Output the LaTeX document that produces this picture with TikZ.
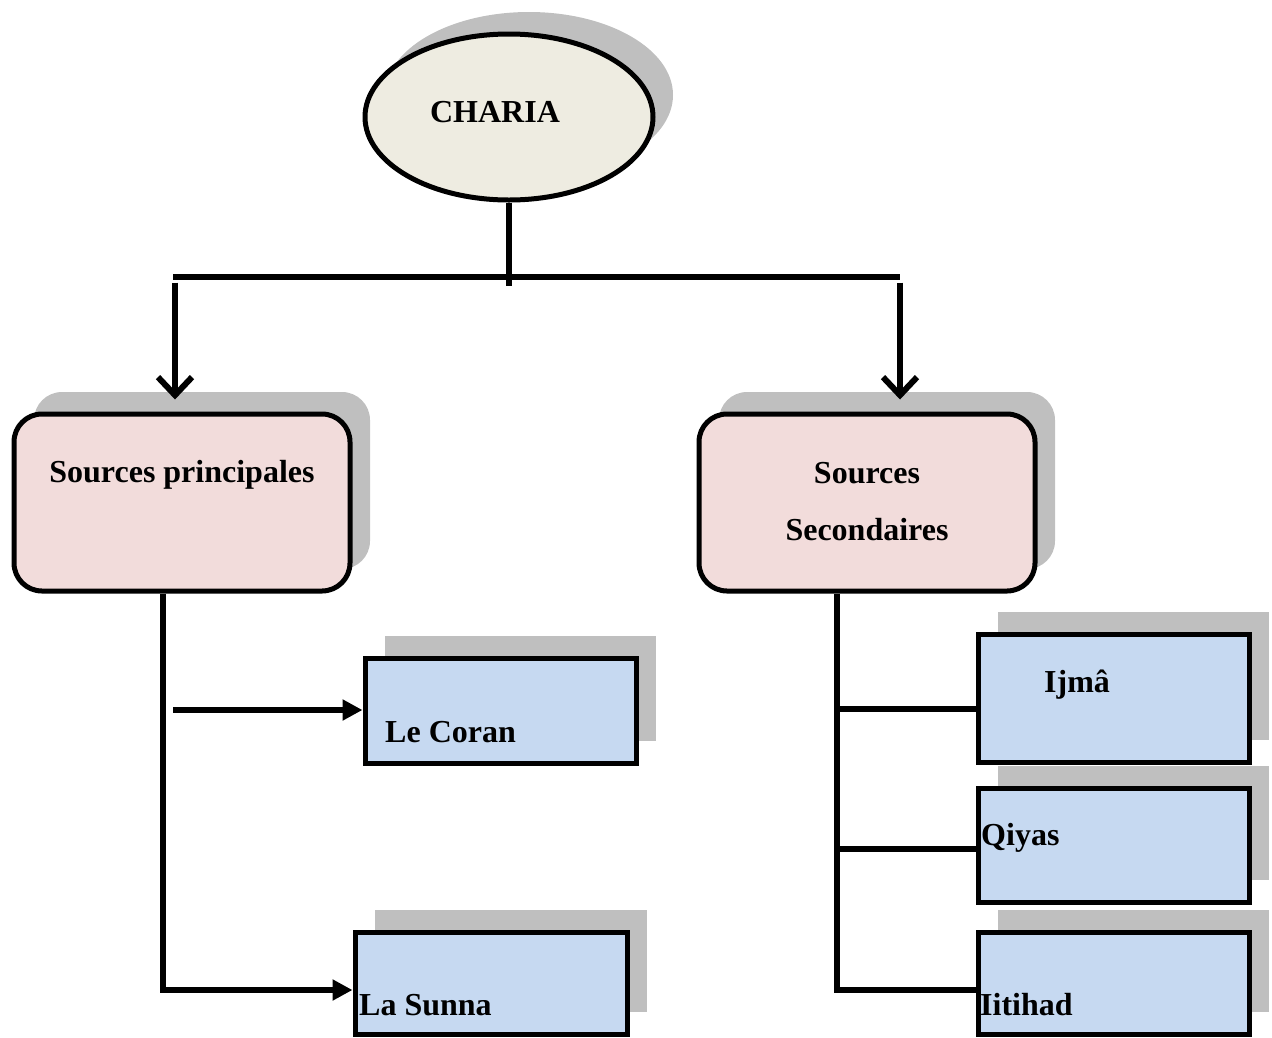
\documentclass[tikz,border=0pt]{standalone}
\usepackage{fontspec}
\setmainfont{Liberation Serif}
\usetikzlibrary{arrows.meta,shapes.geometric,shadows}
\definecolor{shadowgray}{HTML}{BFBFBF}
\definecolor{beige}{HTML}{EEECE1}
\definecolor{pinkbox}{HTML}{F2DCDB}
\definecolor{bluebox}{HTML}{C6D9F1}
\begin{document}
\begin{tikzpicture}[x=1pt,y=-1pt,
  shad/.style={drop shadow={shadow xshift=20pt,shadow yshift=22pt,fill=shadowgray,opacity=1}},
  txt/.style={font=\fontsize{32}{38}\selectfont\bfseries,inner sep=0pt},
  ovalbox/.style={ellipse,draw,line width=5pt,fill=beige,minimum width=288pt,minimum height=166pt,shad},
  roundbox/.style={rectangle,rounded corners=28pt,draw,line width=5pt,fill=pinkbox,minimum width=336pt,minimum height=177pt,shad},
  bluerect/.style={rectangle,draw,line width=5pt,fill=bluebox,shad},
  conn/.style={line width=6pt},
  varrow/.style={line width=6pt,-{Straight Barb[length=18pt,width=34pt,line width=6pt]}},
  harrow/.style={line width=6pt,-{Triangle[length=20pt,width=20pt]}}
]
\useasboundingbox (0,0) rectangle (1272,1037);
% nodes
\node[ovalbox] (charia) at (509,117) {};
\node[txt] (chariat) at (495,112) {CHARIA};
\node[roundbox] (sp) at (182,502.5) {};
\node[txt] (spt) at (182,475) {Sources principales};
\node[roundbox] (ss) at (867,502.5) {};
\node[txt] (sst1) at (867,473) {Sources};
\node[txt] (sst2) at (867,530) {Secondaires};
\node[bluerect,minimum width=271pt,minimum height=105pt] (coran) at (500.5,710.5) {};
\node[txt,anchor=base west] (corant) at (385,742) {Le Coran};
\node[bluerect,minimum width=272pt,minimum height=102pt] (sunna) at (491,983) {};
\node[txt,anchor=base west] (sunnat) at (359,1015) {La Sunna};
\node[bluerect,minimum width=271pt,minimum height=128pt] (ijma) at (1113.5,698) {};
\node[txt,anchor=base west] (ijmat) at (1044,692) {Ijmâ};
\node[bluerect,minimum width=271pt,minimum height=114pt] (qiyas) at (1113.5,845) {};
\node[txt,anchor=base west] (qiyast) at (981,845) {Qiyas};
\node[bluerect,minimum width=271pt,minimum height=102pt] (ijtihad) at (1113.5,983) {};
\node[txt,anchor=base west] (ijtihadt) at (980,1015) {Iitihad};
% connectors
\draw[conn] (charia.south) -- (charia.south |- 0,286);
\draw[conn] (173,277) -- (900,277);
\draw[varrow] (sp.north -| 175,0) ++(0,-129) -- ([yshift=12pt]sp.north -| 175,0);
\draw[varrow] (ss.north -| 900,0) ++(0,-129) -- ([yshift=12pt]ss.north -| 900,0);
\draw[harrow] (sp.south -| 163,0) |- (sunna.west |- 0,990);
\draw[harrow] (173,710) -- (coran.west |- 0,710);
\draw[conn] (ss.south -| 837,0) |- (ijtihad.west |- 0,990);
\draw[conn] (837,709) -- (ijma.west |- 0,709);
\draw[conn] (837,849) -- (qiyas.west |- 0,849);
\end{tikzpicture}
\end{document}
